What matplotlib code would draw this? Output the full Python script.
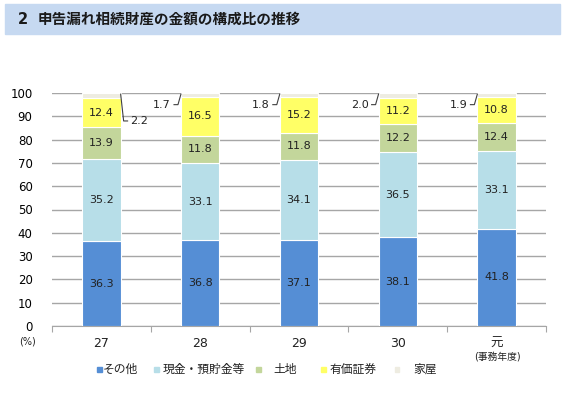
import matplotlib.pyplot as plt
import matplotlib.patches as mpatches
import numpy as np

plt.rcParams['font.family'] = ['DejaVu Sans', 'Noto Sans CJK JP']

years = ['27', '28', '29', '30', '元']
sonota = [36.3, 36.8, 37.1, 38.1, 41.8]
genkin = [35.2, 33.1, 34.1, 36.5, 33.1]
tochi = [13.9, 11.8, 11.8, 12.2, 12.4]
yuka = [12.4, 16.5, 15.2, 11.2, 10.8]
kaoku = [2.2, 1.7, 1.8, 2.0, 1.9]

series = [sonota, genkin, tochi, yuka, kaoku]
names = ['その他', '現金・預貯金等', '土地', '有価証券', '家屋']
colors = ['#558ed5', '#b7dee8', '#c3d69b', '#ffff66', '#eeece1']

fig = plt.figure(figsize=(5.67, 3.96), dpi=100)

# title band
fig.patches.append(mpatches.Rectangle((0.008, 1 - 34/396), 0.98, 30/396,
                                      transform=fig.transFigure, color='#c6d9f1', zorder=0))
fig.text(18/567, 1 - 19/396, '2', fontsize=10.5, fontweight='bold', va='center', color='#1a1a1a')
fig.text(38/567, 1 - 19/396, '申告漏れ相続財産の金額の構成比の推移', fontsize=10.5,
         fontweight='bold', va='center', color='#1a1a1a', family='Noto Sans CJK JP')

ax = fig.add_axes([52/567, 1 - 326/396, 494/567, 233/396])
x = np.arange(len(years))
w = 0.39
bottom = np.zeros(len(years))
for vals, c in zip(series, colors):
    ax.bar(x, vals, w, bottom=bottom, color=c, edgecolor='white', linewidth=0.8, zorder=3)
    bottom = bottom + np.array(vals)

# labels inside bars
bottom = np.zeros(len(years))
for vals in series[:4]:
    for i, v in enumerate(vals):
        ax.text(x[i], bottom[i] + v / 2, f'{v:.1f}', ha='center', va='center',
                fontsize=8, color='#222222', zorder=4)
    bottom = bottom + np.array(vals)

# 家屋 labels with leader lines
lc = '#404040'
for i, v in enumerate(kaoku):
    top = 100
    if i == 0:
        x0 = x[i] + w / 2
        ax.plot([x0, x0 + 0.03, x0 + 0.07], [top - 0.5, 88, 88], color=lc, lw=0.8, clip_on=False, zorder=4)
        ax.text(x0 + 0.1, 88, f'{v:.1f}', ha='left', va='center', fontsize=8, color='#222222')
    else:
        x0 = x[i] - w / 2
        ax.plot([x0 - 0.07, x0 - 0.03, x0], [95, 95, top - 0.5], color=lc, lw=0.8, clip_on=False, zorder=4)
        ax.text(x0 - 0.1, 95, f'{v:.1f}', ha='right', va='center', fontsize=8, color='#222222')

ax.set_xlim(-0.5, 4.5)
ax.set_ylim(0, 100)
ax.set_yticks(range(0, 101, 10))
ax.yaxis.grid(True, color='#a6a6a6', lw=1, zorder=0)
ax.tick_params(axis='y', length=0, labelsize=8.5, pad=14)
for s in ['left', 'right', 'top']:
    ax.spines[s].set_visible(False)
ax.spines['bottom'].set_color('#a6a6a6')
ax.set_xticks(np.arange(-0.5, 5, 1))
ax.set_xticklabels([])
ax.tick_params(axis='x', length=4, color='#a6a6a6')
for i, yl in enumerate(years):
    ax.text(x[i], -7.5, yl, ha='center', va='center', fontsize=9, color='#222222')
fig.text(27/567, 1 - 342/396, '(%)', fontsize=7, ha='center', va='center', color='#222222')
fig.text(497/567, 1 - 357/396, '(事務年度)', fontsize=7, ha='center', va='center', color='#222222')

# legend, laid out like the original
marker_x = [99, 157, 258, 323, 397]
text_x = [103, 163, 273, 330, 413]
ly = 1 - 369/396
for mx, tx, c, n in zip(marker_x, text_x, colors, names):
    fig.patches.append(mpatches.Rectangle((mx/567 - 2.5/567, ly - 2.5/396), 5/567, 5/396,
                                          transform=fig.transFigure, color=c))
    fig.text(tx/567, ly, n, fontsize=8.5, va='center', ha='left', color='#222222')

fig.savefig('out.png', dpi=100)
